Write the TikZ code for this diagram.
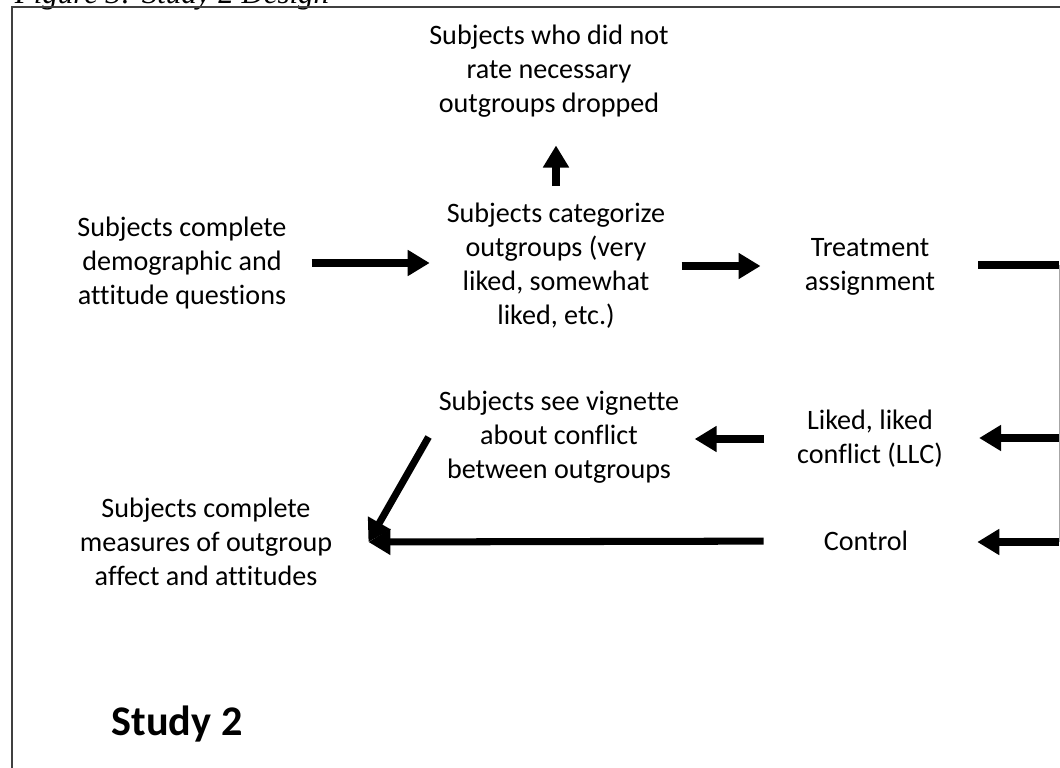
\documentclass[tikz,border=0pt]{standalone}
\usepackage{fontspec}
\setmainfont{Carlito}[Ligatures=NoCommon]
\newfontfamily\captionserif{Liberation Serif}
\usepackage{tikz}
\usetikzlibrary{arrows.meta}
\definecolor{ink}{HTML}{000000}
\definecolor{edgegray}{HTML}{404040}
\definecolor{railgray}{HTML}{A6A6A6}

\begin{document}
\begin{tikzpicture}[x=0.025cm,y=-0.025cm,
  stage/.style={align=center,inner sep=0pt,text=ink,font=\fontsize{20}{24.2}\selectfont},
  flow/.style={line width=5pt,ink,-{Triangle[length=0.55cm,width=0.62cm]}},
  link/.style={line width=5pt,ink},
  rail/.style={line width=0.6pt,railgray}]
\useasboundingbox (0,0) rectangle (1060,768);
\clip (0,0) rectangle (1060,768);
% caption and frame, both cut off by the page edge
\node[anchor=base west,font=\captionserif\itshape\fontsize{22}{26}\selectfont] (cap) at (10,4) {Figure 3: Study 2 Design};
\draw[line width=0.9pt,edgegray] (12,800) -- (12,7) -- (1100,7);
% the stages
\node[stage] (drop) at (549,71) {Subjects who did not\\rate necessary\\outgroups dropped};
\node[stage] (demo) at (182,263) {Subjects complete\\demographic and\\attitude questions};
\node[stage] (categ) at (556,266) {Subjects categorize\\outgroups (very\\liked, somewhat\\liked, etc.)};
\node[stage] (treat) at (870,267) {Treatment\\assignment};
\node[stage] (llc) at (870,439) {Liked, liked\\conflict (LLC)};
\node[stage] (vign) at (559,437) {Subjects see vignette\\about conflict\\between outgroups};
\node[stage] (ctrl) at (866,541) {Control};
\node[stage] (final) at (206,542) {Subjects complete\\measures of outgroup\\affect and attitudes};
\node[anchor=base,text=ink,font=\bfseries\fontsize{30}{36}\selectfont] (study) at (177,735) {Study 2};
% right-hand rail and the point where both last arrows meet
\coordinate (rtop) at (1059,265);
\coordinate (rmid) at (1059,438);
\coordinate (rbot) at (1059,542);
\coordinate (meet) at ([xshift=0.9cm]final.east);
% connectors
\draw[flow,shorten <=0.62cm,shorten >=0.42cm] (demo.east) -- (demo.east -| categ.west);
\draw[flow,shorten <=0.42cm,shorten >=0.7cm] (categ.north) -- (categ.north |- drop.south);
\draw[flow,shorten <=0.4cm,shorten >=1.1cm] (categ.east) -- (treat.west |- categ.east);
\draw[link,shorten <=1.07cm] (treat.east |- rtop) -- (rtop);
\draw[rail] (rtop) -- (rbot);
\draw[flow,shorten >=0.9cm] (rmid) -- (llc.east |- rmid);
\draw[flow,shorten >=1.72cm] (rbot) -- (ctrl.east |- rbot);
\draw[flow,shorten <=0.82cm,shorten >=0.38cm] (llc.west) -- (llc.west -| vign.east);
\draw[flow,shorten <=1.5cm] (ctrl.west) -- (meet);
\draw[flow] ([xshift=-0.25cm]vign.west) -- (meet);
\end{tikzpicture}
\end{document}
